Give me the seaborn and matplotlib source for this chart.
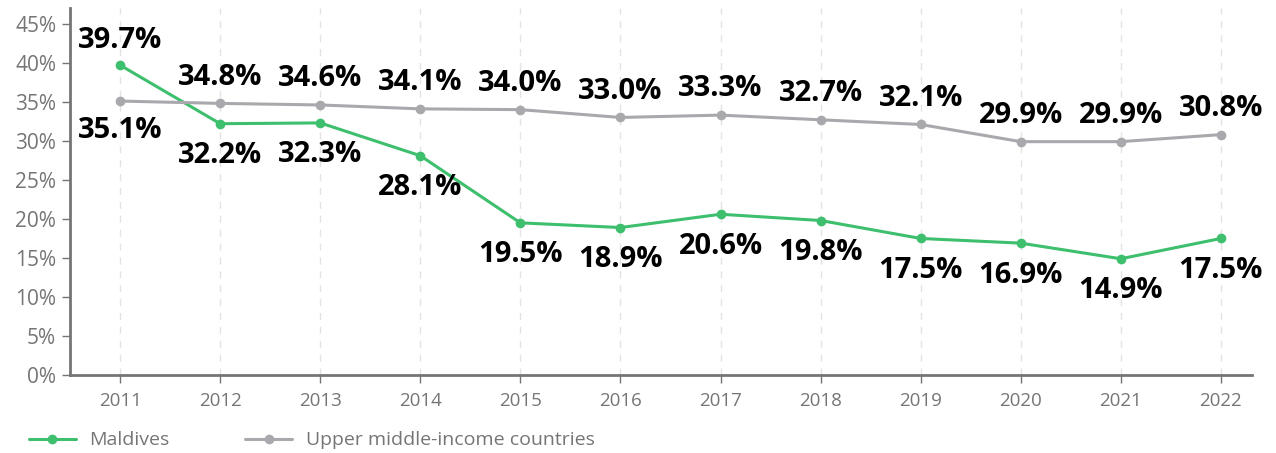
import matplotlib
matplotlib.use("Agg")
import matplotlib.pyplot as plt
import seaborn as sns
import pandas as pd
from matplotlib.lines import Line2D

years = [2011, 2012, 2013, 2014, 2015, 2016, 2017, 2018, 2019, 2020, 2021, 2022]
maldives = [39.7, 32.2, 32.3, 28.1, 19.5, 18.9, 20.6, 19.8, 17.5, 16.9, 14.9, 17.5]
umic = [35.1, 34.8, 34.6, 34.1, 34.0, 33.0, 33.3, 32.7, 32.1, 29.9, 29.9, 30.8]
series_names = ["Maldives", "Upper middle-income countries"]
yticks = [0, 5, 10, 15, 20, 25, 30, 35, 40, 45]

GREEN = "#3dbf6e"
GREY = "#a9a9ad"
AXIS = "#757575"

df = pd.DataFrame({
    "year": years * 2,
    "value": maldives + umic,
    "series": [series_names[0]] * len(years) + [series_names[1]] * len(years),
})

sns.set_theme(style="white")
plt.rcParams["font.family"] = ["Open Sans", "DejaVu Sans"]

fig = plt.figure(figsize=(12.76, 4.53), dpi=100)
ax = fig.add_axes([0.0549, 0.172, 0.9262, 0.81])

sns.lineplot(data=df, x="year", y="value", hue="series",
             palette={series_names[0]: GREEN, series_names[1]: GREY},
             marker="o", markersize=7, markeredgewidth=0, linewidth=2.2,
             ax=ax, legend=False, zorder=3)

ax.set_xlim(2010.5, 2022.31)
ax.set_ylim(0, 47)
ax.set_yticks(yticks)
ax.set_yticklabels([f"{v}%" for v in yticks])
ax.set_xticks(years)
ax.set_xticklabels([str(y) for y in years])
ax.set_xlabel("")
ax.set_ylabel("")

for x in years:
    ax.axvline(x, color="#e3e3e3", linewidth=1, linestyle=(0, (5, 5)), zorder=0)

for s in ["top", "right"]:
    ax.spines[s].set_visible(False)
for s in ["left", "bottom"]:
    ax.spines[s].set_color(AXIS)
    ax.spines[s].set_linewidth(2)

ax.tick_params(axis="y", which="both", length=6, width=1, color=AXIS,
               labelcolor=AXIS, labelsize=15, pad=4, left=True)
ax.tick_params(axis="x", which="both", length=6, width=1, color=AXIS,
               labelcolor=AXIS, labelsize=13.5, pad=6, bottom=True)

for i, (y, m, u) in enumerate(zip(years, maldives, umic)):
    m_up = m > u
    ax.annotate(f"{m:.1f}%", (y, m), xytext=(0, 18 if m_up else -23),
                textcoords="offset points", ha="center", va="center",
                fontsize=21, fontweight="bold", color="black", zorder=5)
    ax.annotate(f"{u:.1f}%", (y, u), xytext=(0, 19 if not m_up else -21),
                textcoords="offset points", ha="center", va="center",
                fontsize=21, fontweight="bold", color="black", zorder=5)

handles = [
    Line2D([0], [0], color=GREEN, marker="o", markersize=7, markeredgewidth=0, linewidth=2.2),
    Line2D([0], [0], color=GREY, marker="o", markersize=7, markeredgewidth=0, linewidth=2.2),
]
leg = fig.legend(handles, series_names, loc="center left", bbox_to_anchor=(0.009, 0.028),
                 ncol=2, frameon=False, handlelength=2.4, handletextpad=0.7,
                 columnspacing=3.9, fontsize=14)
for t in leg.get_texts():
    t.set_color(AXIS)

fig.savefig("out.png", dpi=100)
